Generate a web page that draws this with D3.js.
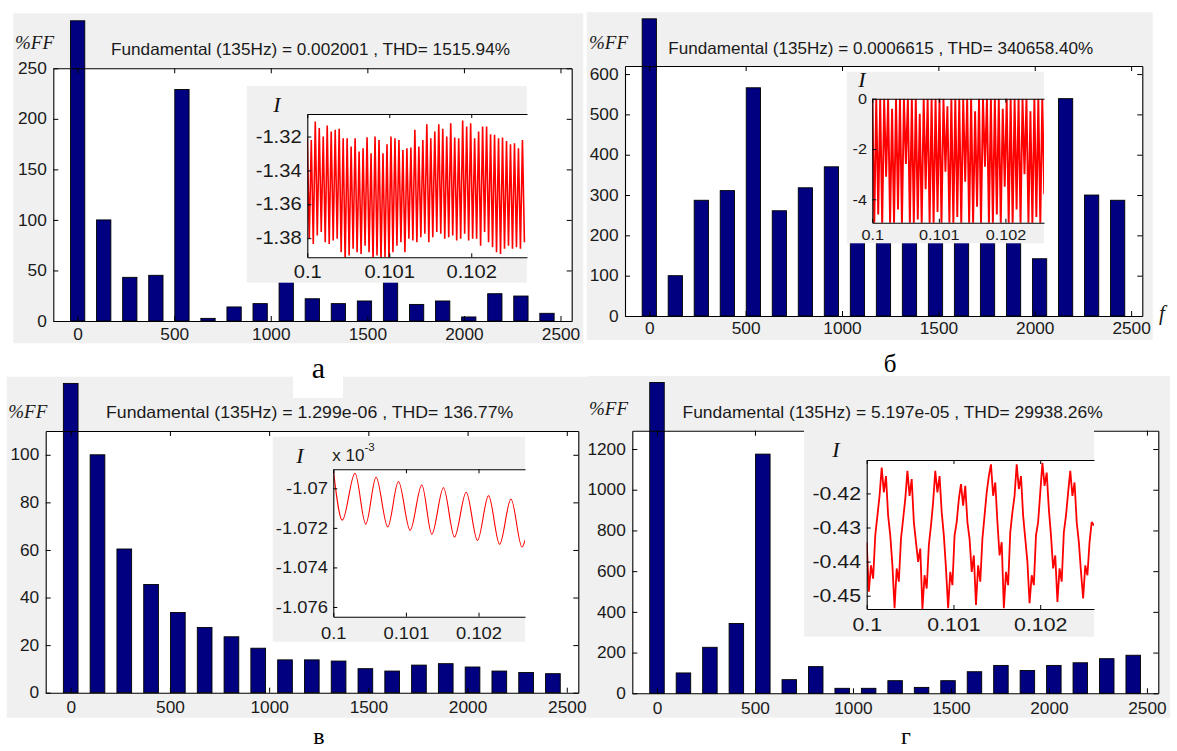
<!DOCTYPE html>
<html>
<head>
<meta charset="utf-8">
<title>Harmonic spectra</title>
<script src="https://cdn.jsdelivr.net/npm/d3@7"></script>
<style>
  body { margin: 0; background: #fff; }
  svg { display: block; }
</style>
</head>
<body>
<svg id="chart" width="1177" height="751"></svg>
<script>
// ---------- data ----------
const harmonicsHz = [0, 135, 270, 405, 540, 675, 810, 945, 1080, 1215, 1350, 1485, 1620, 1755, 1890, 2025, 2160, 2295, 2430];
const freqTicks = [0, 500, 1000, 1500, 2000, 2500];

// %FF of each harmonic (bar 0 runs past the top of the axes in every panel)
const spectrumA = [297, 100, 43.2, 45.2, 229, 2.6, 13.9, 17.2, 42, 22, 17.2, 19.8, 41, 16.4, 19.8, 4, 27, 24.7, 7.6];
const spectrumB = [737, 100, 287, 311, 566, 261, 318, 370, 230, 270, 250, 300, 260, 240, 280, 142, 539, 300, 287];
const spectrumC = [130, 100, 60.4, 45.5, 33.7, 27.4, 23.5, 18.7, 13.8, 13.8, 13.3, 10.1, 9.1, 11.6, 12.2, 10.8, 9.1, 8.5, 8.0];
const spectrumD = [1527, 100, 226, 343, 1175, 67, 131, 24.5, 24.5, 62, 29, 62, 106, 137, 112, 137, 150, 170, 187];

const ticksA = [0, 50, 100, 150, 200, 250];
const ticksB = [0, 100, 200, 300, 400, 500, 600];
const ticksC = [0, 20, 40, 60, 80, 100];
const ticksD = [0, 200, 400, 600, 800, 1000, 1200];

const titles = [
  "Fundamental (135Hz) = 0.002001 , THD= 1515.94%",
  "Fundamental (135Hz) = 0.0006615 , THD= 340658.40%",
  "Fundamental (135Hz) = 1.299e-06 , THD= 136.77%",
  "Fundamental (135Hz) = 5.197e-05 , THD= 29938.26%"
];
const captions = ["а", "б", "в", "г"];

// inset current waveforms, t from 0.1 s
const timeTicks = [0.1, 0.101, 0.102];

const currentTicksA = [-1.32, -1.34, -1.36, -1.38];
const sampleStepA = 0.0000243;
const currentPeaksA = [
  -1.3210, -1.3220, -1.3111, -1.3150, -1.3200, -1.3135, -1.3170, -1.3160, -1.3154, -1.3210,
  -1.3210, -1.3259, -1.3210, -1.3289, -1.3269, -1.3204, -1.3299, -1.3200, -1.3220, -1.3299,
  -1.3246, -1.3200, -1.3210, -1.3220, -1.3279, -1.3269, -1.3265, -1.3160, -1.3259, -1.3220,
  -1.3127, -1.3210, -1.3170, -1.3127, -1.3154, -1.3200, -1.3121, -1.3206, -1.3210, -1.3105,
  -1.3141, -1.3121, -1.3210, -1.3170, -1.3141, -1.3141, -1.3186, -1.3190, -1.3210, -1.3206,
  -1.3226, -1.3246, -1.3240, -1.3269, -1.3220];
const currentTroughsA = [
  -1.3804, -1.3834, -1.3784, -1.3764, -1.3824, -1.3834, -1.3814, -1.3804, -1.3883, -1.3935,
  -1.3903, -1.3863, -1.3883, -1.3893, -1.3844, -1.3883, -1.3935, -1.3903, -1.3935, -1.3913,
  -1.3935, -1.3883, -1.3844, -1.3824, -1.3883, -1.3804, -1.3814, -1.3824, -1.3794, -1.3774,
  -1.3824, -1.3794, -1.3764, -1.3774, -1.3804, -1.3794, -1.3784, -1.3814, -1.3804, -1.3774,
  -1.3814, -1.3804, -1.3804, -1.3844, -1.3764, -1.3824, -1.3853, -1.3883, -1.3893, -1.3863,
  -1.3844, -1.3863, -1.3853, -1.3863, -1.3824];

const currentTicksB = [0, -2, -4];
const sampleStepB = 0.0000297;
const currentPeaksB = [
  0, 0, 0, 0, 0, -0.4, 0, 0, 0, 0,
  0, 0, -0.6, 0, 0, 0, 0, 0, 0, -0.3,
  0, 0, 0, 0, 0, 0, -0.5, 0, 0, 0,
  0, 0, 0, -0.4, 0, 0, 0, 0, 0, 0,
  -0.5, 0, 0, 0];
const currentTroughsB = [
  -5.0, -4.6, -5.0, -3.1, -5.0, -5.0, -4.4, -5.0, -2.6, -5.0,
  -5.0, -4.8, -5.0, -3.6, -5.0, -5.0, -4.5, -5.0, -2.9, -5.0,
  -5.0, -4.7, -5.0, -3.3, -5.0, -5.0, -4.3, -5.0, -2.7, -5.0,
  -5.0, -4.6, -5.0, -3.5, -5.0, -5.0, -4.4, -5.0, -3.0, -5.0,
  -5.0, -4.7, -5.0, -3.8];

// panel в: current x 10^-3, read at its turning points
const currentTicksC = [-1.07, -1.072, -1.074, -1.076];
const extremaTimeC = [0.1, 0.100124, 0.100299, 0.100447, 0.100589, 0.10075, 0.100897, 0.101058, 0.101219, 0.101357,
  0.101517, 0.101669, 0.10183, 0.101986, 0.102138, 0.10229, 0.102447, 0.102599, 0.102644];
const extremaValueC = [-1.06907, -1.07161, -1.06924, -1.07181, -1.06944, -1.07195, -1.06966, -1.07212, -1.06983, -1.07232,
  -1.06997, -1.07246, -1.0702, -1.07263, -1.07037, -1.07283, -1.07054, -1.07297, -1.07259];

const currentTicksD = [-0.42, -0.43, -0.44, -0.45];
const sampleStepD = 0.0000247;
const currentD = [
  -0.4343, -0.4488, -0.4411, -0.4450, -0.4323, -0.4265, -0.4207, -0.4124, -0.4197, -0.4149,
  -0.4265, -0.4323, -0.4411, -0.4537, -0.4420, -0.4459, -0.4333, -0.4275, -0.4217, -0.4134,
  -0.4207, -0.4158, -0.4284, -0.4343, -0.4401, -0.4362, -0.4539, -0.4440, -0.4479, -0.4352,
  -0.4294, -0.4226, -0.4134, -0.4197, -0.4149, -0.4255, -0.4323, -0.4420, -0.4537, -0.4430,
  -0.4469, -0.4323, -0.4284, -0.4217, -0.4173, -0.4236, -0.4178, -0.4284, -0.4333, -0.4430,
  -0.4382, -0.4527, -0.4411, -0.4459, -0.4333, -0.4265, -0.4197, -0.4149, -0.4115, -0.4207,
  -0.4168, -0.4284, -0.4382, -0.4343, -0.4537, -0.4430, -0.4469, -0.4314, -0.4255, -0.4207,
  -0.4115, -0.4187, -0.4149, -0.4265, -0.4333, -0.4401, -0.4522, -0.4440, -0.4469, -0.4323,
  -0.4284, -0.4197, -0.4110, -0.4178, -0.4139, -0.4246, -0.4323, -0.4420, -0.4382, -0.4518,
  -0.4420, -0.4459, -0.4314, -0.4265, -0.4197, -0.4134, -0.4207, -0.4168, -0.4284, -0.4343,
  -0.4430, -0.4508, -0.4411, -0.4440, -0.4343, -0.4284, -0.4294];

// ---------- build point lists ----------
function alternate(peaks, troughs, step) {
  const pts = [];
  peaks.forEach((p, i) => {
    pts.push([0.1 + 2 * i * step, p]);
    pts.push([0.1 + (2 * i + 1) * step, troughs[i]]);
  });
  return pts;
}
const pointsA = alternate(currentPeaksA, currentTroughsA, sampleStepA);
const pointsB = alternate(currentPeaksB, currentTroughsB, sampleStepB);
const pointsC = extremaTimeC.map((t, i) => [t, extremaValueC[i]]);
const pointsD = currentD.map((v, i) => [0.1 + i * sampleStepD, v]);

// ---------- layout ----------
const SANS = '"Liberation Sans", Arial, sans-serif';
const SERIF = '"Liberation Serif", "Times New Roman", serif';
const freqDomain = [-126, 2558];
const barHalfHz = 37;

const panels = [
  { values: spectrumA, yTicks: ticksA, yMax: 250, title: titles[0],
    bg: [13.3, 13.3, 583.3, 343.3], ax: { l: 53.3, r: 571.7, t: 68.3, b: 321 },
    titleX: [111, 510], titleY: 54.8, ff: [15, 49], xPad: 7.2,
    inset: { pts: pointsA, ticks: currentTicksA, curve: d3.curveLinear, width: 1.6,
      bg: [246.7, 86, 526.7, 282.7], ax: { l: 307.3, r: 527, t: 114, b: 257.3 },
      tDomain: [0.1, 0.10268], iDomain: [-1.3913, -1.3067], font: 17.5, stretch: 1.15, xPad: 8.5, label: [277, 112] } },
  { values: spectrumB, yTicks: ticksB, yMax: 620, title: titles[1],
    bg: [586.7, 12.3, 1152.7, 340], ax: { l: 625, r: 1142.3, t: 66, b: 316 },
    titleX: [668.3, 1093.3], titleY: 53.5, ff: [589, 49], xPad: 6.5, fLabel: [1159, 320],
    inset: { pts: pointsB, ticks: currentTicksB, curve: d3.curveLinear, width: 1.9,
      bg: [846.7, 71.7, 1044, 243.3], ax: { l: 872.3, r: 1044, t: 98.7, b: 222.7 },
      tDomain: [0.1, 0.10258], iDomain: [-4.93, 0], font: 15, stretch: 1.08, xPad: 7, label: [862, 87] } },
  { values: spectrumC, yTicks: ticksC, yMax: 110, title: titles[2],
    bg: [6.7, 376.7, 588, 717.7], ax: { l: 45.7, r: 578.3, t: 431, b: 692.7 },
    titleX: [106, 513.3], titleY: 418.3, ff: [8.3, 418], xPad: 8.8,
    inset: { pts: pointsC, ticks: currentTicksC, curve: d3.curveMonotoneX, width: 1.1,
      bg: [272.7, 436.7, 525, 641.7], ax: { l: 333.3, r: 525, t: 469.3, b: 616.7 },
      tDomain: [0.1, 0.10264], iDomain: [-1.07649, -1.06904], font: 17, stretch: 1.08, xPad: 9.8, label: [300, 463],
      exponent: [332.3, 460.7] } },
  { values: spectrumD, yTicks: ticksD, yMax: 1290, title: titles[3],
    bg: [588, 376, 1170, 717.7], ax: { l: 632.3, r: 1158.3, t: 430.7, b: 693.3 },
    titleX: [682.5, 1102.7], titleY: 417.7, ff: [589, 415], xPad: 9.2,
    inset: { pts: pointsD, ticks: currentTicksD, curve: d3.curveLinear, width: 1.8,
      bg: [804, 430, 1094, 636.7], ax: { l: 866.7, r: 1094, t: 460, b: 609 },
      tDomain: [0.1, 0.10262], iDomain: [-0.4539, -0.4102], font: 18.5, stretch: 1.15, xPad: 8.8, label: [836, 456.7] } }
];

const captionPos = [[318.3, 378, 30], [890, 372, 25], [319, 744, 24], [906, 744, 24]];

const svg = d3.select("#chart");

function styleAxis(g, fontSize, stretch) {
  g.attr("font-family", SANS).attr("font-size", fontSize);
  g.select(".domain").attr("stroke", "#000").attr("stroke-width", 1.1);
  g.selectAll(".tick line").attr("stroke", "#000").attr("stroke-width", 1);
  g.selectAll(".tick text").attr("fill", "#1a1a1a").attr("transform", `scale(${stretch},1)`);
}

function box(g, b, fill) {
  return g.append("rect")
    .attr("x", b[0]).attr("y", b[1])
    .attr("width", b[2] - b[0]).attr("height", b[3] - b[1])
    .attr("fill", fill);
}

function drawInset(g, s, idx) {
  box(g, s.bg, "#f0f0f0");
  box(g, [s.ax.l, s.ax.t, s.ax.r, s.ax.b], "#fff");

  const x = d3.scaleLinear().domain(s.tDomain).range([s.ax.l, s.ax.r]);
  const y = d3.scaleLinear().domain(s.iDomain).range([s.ax.b, s.ax.t]);

  const clipId = "inset-clip-" + idx;
  g.append("clipPath").attr("id", clipId)
    .append("rect")
    .attr("x", s.ax.l).attr("y", s.ax.t)
    .attr("width", s.ax.r - s.ax.l).attr("height", s.ax.b - s.ax.t);

  const line = d3.line().x(d => x(d[0])).y(d => y(d[1])).curve(s.curve);
  g.append("path")
    .datum(s.pts)
    .attr("clip-path", `url(#${clipId})`)
    .attr("fill", "none")
    .attr("stroke", "#ff0000")
    .attr("stroke-width", s.width)
    .attr("stroke-linejoin", "bevel")
    .attr("d", line);

  g.append("g").attr("transform", `translate(0,${s.ax.b})`)
    .call(d3.axisBottom(x).tickValues(timeTicks).tickFormat(d => String(d))
      .tickSizeInner(-4).tickSizeOuter(0).tickPadding(s.xPad))
    .call(a => styleAxis(a, s.font, s.stretch));
  g.append("g").attr("transform", `translate(0,${s.ax.t})`)
    .call(d3.axisTop(x).tickValues(timeTicks).tickFormat("")
      .tickSizeInner(-4).tickSizeOuter(0))
    .call(a => styleAxis(a, s.font, 1));
  g.append("g").attr("transform", `translate(${s.ax.l},0)`)
    .call(d3.axisLeft(y).tickValues(s.ticks).tickFormat(d => String(d))
      .tickSizeInner(-4).tickSizeOuter(0).tickPadding(5))
    .call(a => styleAxis(a, s.font, s.stretch));

  g.append("text")
    .attr("x", s.label[0]).attr("y", s.label[1])
    .attr("text-anchor", "middle")
    .attr("font-family", SERIF).attr("font-style", "italic")
    .attr("font-size", 22).attr("fill", "#111")
    .text("I");

  if (s.exponent) {
    const t = g.append("text")
      .attr("x", s.exponent[0]).attr("y", s.exponent[1])
      .attr("font-family", SANS).attr("font-size", 17).attr("fill", "#1a1a1a");
    t.append("tspan").text("x 10");
    t.append("tspan").attr("dy", -10).attr("font-size", 11.5).text("-3");
  }
}

function drawSpectrum(p, idx) {
  const g = svg.append("g");
  box(g, p.bg, "#f0f0f0");
  box(g, [p.ax.l, p.ax.t, p.ax.r, p.ax.b], "#fff");

  const x = d3.scaleLinear().domain(freqDomain).range([p.ax.l, p.ax.r]);
  const y = d3.scaleLinear().domain([0, p.yMax]).range([p.ax.b, p.ax.t]);

  g.selectAll("rect.bar")
    .data(p.values)
    .join("rect")
    .attr("class", "bar")
    .attr("x", (d, i) => x(harmonicsHz[i] - barHalfHz))
    .attr("width", (d, i) => x(harmonicsHz[i] + barHalfHz) - x(harmonicsHz[i] - barHalfHz))
    .attr("y", d => y(d))
    .attr("height", d => y(0) - y(d))
    .attr("fill", "#000080")
    .attr("stroke", "#000")
    .attr("stroke-width", 0.9);

  // box with inward ticks on all four sides
  g.append("g").attr("transform", `translate(0,${p.ax.b})`)
    .call(d3.axisBottom(x).tickValues(freqTicks).tickFormat(d => String(d))
      .tickSizeInner(-5).tickSizeOuter(0).tickPadding(p.xPad))
    .call(a => styleAxis(a, 16, 1.08));
  g.append("g").attr("transform", `translate(0,${p.ax.t})`)
    .call(d3.axisTop(x).tickValues(freqTicks).tickFormat("").tickSizeInner(-5).tickSizeOuter(0))
    .call(a => styleAxis(a, 16, 1));
  g.append("g").attr("transform", `translate(${p.ax.l},0)`)
    .call(d3.axisLeft(y).tickValues(p.yTicks).tickFormat(d => String(d))
      .tickSizeInner(-5).tickSizeOuter(0).tickPadding(6))
    .call(a => styleAxis(a, 16, 1.08));
  g.append("g").attr("transform", `translate(${p.ax.r},0)`)
    .call(d3.axisRight(y).tickValues(p.yTicks).tickFormat("").tickSizeInner(-5).tickSizeOuter(0))
    .call(a => styleAxis(a, 16, 1));

  g.append("text")
    .attr("x", p.titleX[0]).attr("y", p.titleY)
    .attr("textLength", p.titleX[1] - p.titleX[0])
    .attr("lengthAdjust", "spacingAndGlyphs")
    .attr("font-family", SANS).attr("font-size", 16.5).attr("fill", "#1a1a1a")
    .text(p.title);

  g.append("text")
    .attr("x", p.ff[0]).attr("y", p.ff[1])
    .attr("font-family", SERIF).attr("font-style", "italic")
    .attr("font-size", 19).attr("fill", "#1a1a1a")
    .text("%FF");

  if (p.fLabel) {
    g.append("text")
      .attr("x", p.fLabel[0]).attr("y", p.fLabel[1])
      .attr("font-family", SERIF).attr("font-style", "italic")
      .attr("font-size", 21).attr("fill", "#1a1a1a")
      .text("f");
  }

  drawInset(g, p.inset, idx);
}

panels.forEach(drawSpectrum);

// sub-figure captions; "а" sits on a white patch over panel в
svg.append("rect").attr("x", 293).attr("y", 370).attr("width", 50).attr("height", 28).attr("fill", "#fff");
svg.selectAll("text.caption")
  .data(captions)
  .join("text")
  .attr("class", "caption")
  .attr("x", (d, i) => captionPos[i][0])
  .attr("y", (d, i) => captionPos[i][1])
  .attr("font-size", (d, i) => captionPos[i][2])
  .attr("text-anchor", "middle")
  .attr("font-family", SERIF)
  .attr("fill", "#000")
  .text(d => d);
</script>
</body>
</html>
